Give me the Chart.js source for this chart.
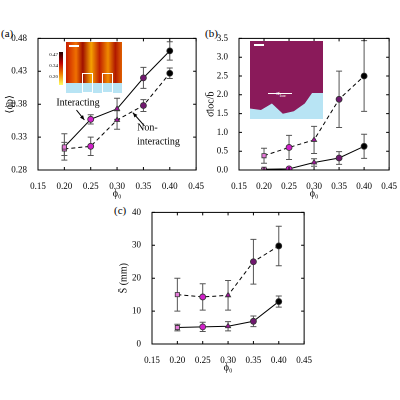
<!DOCTYPE html>
<html><head><meta charset="utf-8">
<script src="https://cdn.jsdelivr.net/npm/chart.js@4"></script>
<style>
body{margin:0;width:400px;height:400px;background:#fff;position:relative;overflow:hidden;font-family:"Liberation Serif",serif;color:#000}
canvas{position:absolute}
.lbl{position:absolute;font-size:11px;color:#000;font-weight:normal}
.inset{position:absolute}
</style></head><body>
<div class="lbl" style="left:1px;top:27px">(a)</div>
<div class="lbl" style="left:205px;top:27px">(b)</div>
<div class="lbl" style="left:114px;top:204px">(c)</div>
<canvas id="ca" style="left:4px;top:30px;width:203px;height:170px"></canvas>
<canvas id="cb" style="left:205px;top:30px;width:195px;height:170px"></canvas>
<canvas id="cc" style="left:118px;top:204px;width:197px;height:170px"></canvas>
<div class="inset" style="left:66px;top:42px;width:56px;height:51px;background:linear-gradient(90deg,#c81e00 0%,#f07000 18%,#a01000 30%,#f5a000 45%,#c02000 60%,#f08a00 75%,#b01800 88%,#e06000 100%)"></div>
<div class="inset" style="left:66px;top:83px;width:56px;height:10px;background:#b8e4f4"></div>
<div class="inset" style="left:82px;top:73px;width:9px;height:18px;border:1px solid #fff"></div>
<div class="inset" style="left:102px;top:73px;width:9px;height:18px;border:1px solid #fff"></div>
<div class="inset" style="left:69px;top:45px;width:10px;height:2px;background:#fff"></div>
<div class="inset" style="left:59px;top:52px;width:4px;height:33px;background:linear-gradient(#200000,#c00000,#f08000,#ffff60)"></div>
<div class="inset" style="left:45px;top:49px;font-size:5px;line-height:11px;text-align:right;width:13px">0.47<br>0.34<br>0.20</div>
<div class="inset" style="left:250px;top:41px;width:73px;height:78px;background:#8a1a5a"></div>
<div class="inset" style="left:250px;top:93px;width:73px;height:26px;background:#b8e4f4;clip-path:polygon(0 60%,15% 65%,30% 40%,45% 80%,60% 70%,75% 40%,85% 0,100% 0,100% 100%,0 100%)"></div>
<div class="inset" style="left:254px;top:44px;width:10px;height:2px;background:#fff"></div>
<div class="inset" style="left:268px;top:93px;width:24px;height:1px;background:#fff"></div>
<div class="inset" style="left:276px;top:89px;font-size:7px;color:#fff">σ<sub style="font-size:5px">loc</sub></div>
<script>
var phi = [0.20, 0.25, 0.30, 0.35, 0.40];
var styles = ['rect', 'circle', 'triangle', 'circle', 'circle'];
var colors = ['#e47ad8', '#d020c8', '#a0159a', '#70186e', '#000000'];

var aInter = [0.315, 0.357, 0.373, 0.420, 0.461];
var aInterErr = [0.020, 0.007, 0.016, 0.016, 0.014];
var aNon = [0.312, 0.316, 0.356, 0.378, 0.427];
var aNonErr = [0.010, 0.014, 0.014, 0.009, 0.008];

var bSolid = [0.02, 0.03, 0.20, 0.32, 0.63];
var bSolidErr = [0.02, 0.03, 0.10, 0.17, 0.32];
var bDash = [0.38, 0.60, 0.80, 1.88, 2.50];
var bDashErr = [0.20, 0.32, 0.36, 0.75, 0.94];

var cSolid = [5.0, 5.2, 5.4, 6.9, 12.9];
var cSolidErr = [1.0, 1.4, 1.4, 1.6, 1.7];
var cDash = [15.0, 14.3, 14.8, 25.0, 29.8];
var cDashErr = [5.0, 4.0, 4.5, 6.8, 6.0];

var font = { family: '"Liberation Serif", serif', size: 9 };
var notesById = {};

// Error bars under the points, plus a full box with inward ticks.
var errorBars = {
	id: 'errorBars',
	beforeDatasetsDraw: function ( chart ) {
		var ctx = chart.ctx, x = chart.scales.x, y = chart.scales.y;
		ctx.save();
		ctx.strokeStyle = '#555';
		ctx.lineWidth = 1;
		chart.data.datasets.forEach( function ( ds ) {
			ds.errors.forEach( function ( e, i ) {
				var px = x.getPixelForValue( phi[ i ] );
				var y1 = y.getPixelForValue( ds.vals[ i ] - e );
				var y2 = y.getPixelForValue( ds.vals[ i ] + e );
				ctx.beginPath();
				ctx.moveTo( px, y1 ); ctx.lineTo( px, y2 );
				ctx.moveTo( px - 3, y1 ); ctx.lineTo( px + 3, y1 );
				ctx.moveTo( px - 3, y2 ); ctx.lineTo( px + 3, y2 );
				ctx.stroke();
			} );
		} );
		ctx.restore();
	},
	afterDraw: function ( chart ) {
		var a = chart.chartArea, ctx = chart.ctx;
		ctx.save();
		ctx.strokeStyle = '#000';
		ctx.lineWidth = 1;
		ctx.strokeRect( a.left, a.top, a.right - a.left, a.bottom - a.top );
		chart.scales.x.ticks.forEach( function ( t ) {
			var px = chart.scales.x.getPixelForValue( t.value );
			ctx.beginPath(); ctx.moveTo( px, a.top ); ctx.lineTo( px, a.top + 3 );
			ctx.moveTo( px, a.bottom ); ctx.lineTo( px, a.bottom - 3 ); ctx.stroke();
		} );
		chart.scales.y.ticks.forEach( function ( t ) {
			var py = chart.scales.y.getPixelForValue( t.value );
			ctx.beginPath(); ctx.moveTo( a.right, py ); ctx.lineTo( a.right - 3, py );
			ctx.moveTo( a.left, py ); ctx.lineTo( a.left + 3, py ); ctx.stroke();
		} );
		var n = notesById[ chart.canvas.id ];
		if ( n ) n( chart );
		ctx.restore();
	},
};

function series( vals, errs, dashed ) {
	return {
		data: vals.map( function ( v, i ) { return { x: phi[ i ], y: v }; } ),
		vals: vals,
		errors: errs,
		borderColor: '#000',
		borderWidth: 1,
		borderDash: dashed ? [ 4, 3 ] : [],
		pointStyle: styles,
		pointBackgroundColor: colors,
		pointBorderColor: '#333',
		pointBorderWidth: 0.8,
		pointRadius: 3,
	};
}

function makeChart( id, sets, ymin, ymax, ystep, ytitle, ydec ) {
	var c = document.getElementById( id );
	c.width = parseInt( c.style.width );
	c.height = parseInt( c.style.height );
	return new Chart( c, {
		type: 'line',
		data: { datasets: sets },
		plugins: [ errorBars ],
		options: {
			animation: false,
			responsive: false,
			devicePixelRatio: 2,
			layout: { padding: { top: 5, right: 6 } },
			plugins: { legend: { display: false }, tooltip: { enabled: false } },
			scales: {
				x: {
					type: 'linear', min: 0.15, max: 0.45,
					grid: { display: false },
					border: { color: '#000' },
					ticks: { stepSize: 0.05, font: font, color: '#000', callback: function ( v ) { return v.toFixed( 2 ); } },
					title: { display: true, text: 'ϕ₀', font: { family: font.family, size: 10 }, color: '#000', padding: 0 },
					afterFit: function ( s ) { s.height = 30; },
				},
				y: {
					min: ymin, max: ymax,
					grid: { display: false },
					border: { color: '#000' },
					ticks: { stepSize: ystep, font: font, color: '#000', callback: function ( v ) { return v.toFixed( ydec ); } },
					title: { display: true, text: ytitle, font: { family: font.family, size: 10 }, color: '#000', padding: 0 },
					afterFit: function ( s ) { s.width = 34; },
				},
			},
		},
	} );
}

notesById.ca = function ( chart ) {
	var ctx = chart.ctx, x = chart.scales.x, y = chart.scales.y;
	ctx.fillStyle = '#000';
	ctx.font = '10px "Liberation Serif", serif';
	ctx.fillText( 'Interacting', x.getPixelForValue( 0.2 ) - 8, y.getPixelForValue( 0.378 ) );
	ctx.fillText( 'Non-', x.getPixelForValue( 0.338 ), y.getPixelForValue( 0.34 ) );
	ctx.fillText( 'interacting', x.getPixelForValue( 0.338 ), y.getPixelForValue( 0.319 ) );
	function arrow( x1, y1, x2, y2 ) {
		var px1 = x.getPixelForValue( x1 ), py1 = y.getPixelForValue( y1 );
		var px2 = x.getPixelForValue( x2 ), py2 = y.getPixelForValue( y2 );
		var ang = Math.atan2( py2 - py1, px2 - px1 );
		ctx.beginPath(); ctx.moveTo( px1, py1 ); ctx.lineTo( px2, py2 ); ctx.stroke();
		ctx.beginPath(); ctx.moveTo( px2, py2 );
		ctx.lineTo( px2 - 5 * Math.cos( ang - 0.4 ), py2 - 5 * Math.sin( ang - 0.4 ) );
		ctx.lineTo( px2 - 5 * Math.cos( ang + 0.4 ), py2 - 5 * Math.sin( ang + 0.4 ) );
		ctx.fill();
	}
	arrow( 0.223, 0.371, 0.238, 0.356 );
	arrow( 0.352, 0.347, 0.33, 0.367 );
};

makeChart( 'ca', [ series( aInter, aInterErr, false ), series( aNon, aNonErr, true ) ], 0.28, 0.48, 0.05, '⟨ϕ̄p⟩', 2 );
makeChart( 'cb', [ series( bSolid, bSolidErr, false ), series( bDash, bDashErr, true ) ], 0, 3.5, 0.5, 'σ̄loc/b̄', 1 );
makeChart( 'cc', [ series( cSolid, cSolidErr, false ), series( cDash, cDashErr, true ) ], 0, 40, 10, 'S̄ (mm)', 0 );
</script>
</body></html>
